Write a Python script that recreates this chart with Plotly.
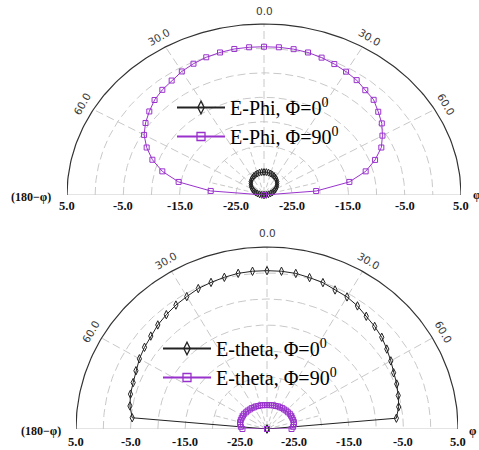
import numpy as np
import plotly.graph_objects as go

# ---------------- data ----------------
RMIN, RMAX = -30.0, 5.0
THETA = list(range(-90, 95, 5))  # degrees, -90 (left, 180-phi) .. 90 (right, phi)

# Top: E-Phi
ephi_phi0 = [-30.0, -29.6, -29.2, -28.8, -28.4, -28.0, -27.65, -27.3, -27.0, -26.7,
             -26.4, -26.15, -25.9, -25.75, -25.6, -25.45, -25.35, -25.3, -25.3,
             -25.3, -25.35, -25.45, -25.6, -25.75, -25.9, -26.15, -26.4, -26.7,
             -27.0, -27.3, -27.65, -28.0, -28.4, -28.8, -29.2, -29.6, -30.0]
ephi_phi90 = [-30.0, -20.5, -14.6, -11.3, -8.9, -7.0, -5.4, -4.3, -3.4, -2.5,
              -1.9, -1.4, -0.8, -0.35, 0.0, 0.2, 0.35, 0.35, 0.35,
              0.35, 0.31, 0.2, -0.08, -0.43, -0.85, -1.3, -2.0, -2.45,
              -3.5, -4.45, -5.7, -7.0, -9.0, -11.3, -14.6, -20.7, -30.0]

# Bottom: E-theta
etheta_phi0 = [-30.0, -5.2, -4.5, -4.1, -3.9, -3.5, -3.0, -2.6, -2.2, -1.7,
               -1.3, -0.9, -0.6, -0.2, 0.0, 0.2, 0.4, 0.45, 0.45,
               0.45, 0.38, 0.14, -0.04, -0.5, -0.67, -1.1, -1.7, -2.1,
               -2.55, -3.2, -3.8, -4.4, -4.7, -5.1, -5.5, -6.2, -30.0]
etheta_phi90_theta = [-90] + THETA + [90]
etheta_phi90 = [-30.0,
                -25.5, -25.2, -25.0, -24.9, -24.9, -24.9, -24.9, -24.9, -25.0, -25.0,
                -25.1, -25.1, -25.2, -25.2, -25.3, -25.3, -25.35, -25.4, -25.4,
                -25.4, -25.35, -25.3, -25.3, -25.2, -25.2, -25.1, -25.1, -25.0,
                -25.0, -24.9, -24.9, -24.9, -24.9, -24.9, -25.0, -25.2, -25.5,
                -30.0]

RADIAL_GRID = [0, -5, -10, -15, -20, -25]
RADIAL_TICKS = [5, -5, -15, -25]
RADIAL_TICK_TEXT = ["5.0", "-5.0", "-15.0", "-25.0"]
ANGLE_SPOKES = [-60, -30, 0, 30, 60]
ANGLE_LABELS = [-60, -30, 0, 30, 60]
ANGLE_TEXT = ["60.0", "30.0", "0.0", "30.0", "60.0"]

PURPLE = "#9932CC"
DARK = "#222222"
GRID = "#c8c8c8"

W, H = 479, 450
YTOP = 1.12  # headroom above the outer arc for the 0.0 label


def to_xy(theta, db):
    t = np.radians(np.asarray(theta, dtype=float))
    r = (np.asarray(db, dtype=float) - RMIN) / (RMAX - RMIN)
    return r * np.sin(t), r * np.cos(t)


fig = go.Figure()

panels = [
    dict(xa="x", ya="y", l=67, r=461, t=24, b=195, lab_shift=-11, leg="legend"),
    dict(xa="x2", ya="y2", l=76, r=458, t=247, b=429, lab_shift=-13.5, leg="legend2"),
]

arc = np.linspace(-90, 90, 181)
for p in panels:
    bx, by = to_xy([-90, 90], [RMAX, RMAX])
    fig.add_trace(go.Scatter(x=bx, y=by, mode="lines", xaxis=p["xa"], yaxis=p["ya"],
                             line=dict(color=GRID, width=1), hoverinfo="skip", showlegend=False))
    for g in RADIAL_GRID:
        gx, gy = to_xy(arc, [g] * len(arc))
        fig.add_trace(go.Scatter(x=gx, y=gy, mode="lines", xaxis=p["xa"], yaxis=p["ya"],
                                 line=dict(color=GRID, width=1, dash="8px,4px"),
                                 hoverinfo="skip", showlegend=False))
    for a in ANGLE_SPOKES:
        sx, sy = to_xy([a, a], [RMIN, RMAX])
        fig.add_trace(go.Scatter(x=sx, y=sy, mode="lines", xaxis=p["xa"], yaxis=p["ya"],
                                 line=dict(color=GRID, width=1, dash="8px,4px"),
                                 hoverinfo="skip", showlegend=False))
    for a in [-75, -45, -15, 15, 45, 75]:
        sx, sy = to_xy([a, a], [RMIN, -20])
        fig.add_trace(go.Scatter(x=sx, y=sy, mode="lines", xaxis=p["xa"], yaxis=p["ya"],
                                 line=dict(color=GRID, width=1, dash="5px,3px"),
                                 hoverinfo="skip", showlegend=False))
    ox, oy = to_xy(arc, [RMAX] * len(arc))
    fig.add_trace(go.Scatter(x=ox, y=oy, mode="lines", xaxis=p["xa"], yaxis=p["ya"],
                             line=dict(color="#333333", width=1.2), hoverinfo="skip", showlegend=False))

series = [
    (0, THETA, ephi_phi0, "E-Phi, \u03a6=0<sup>0</sup>", DARK, "diamond-tall-open", 5),
    (0, THETA, ephi_phi90, "E-Phi, \u03a6=90<sup>0</sup>", PURPLE, "square-open", 5),
    (1, THETA, etheta_phi0, "E-theta, \u03a6=0<sup>0</sup>", DARK, "diamond-tall-open", 6),
    (1, etheta_phi90_theta, etheta_phi90, "E-theta, \u03a6=90<sup>0</sup>", PURPLE, "square-open", 5),
]
for idx, th, vals, name, col, sym, sz in series:
    p = panels[idx]
    x, y = to_xy(th, vals)
    fig.add_trace(go.Scatter(x=x, y=y, mode="lines+markers", xaxis=p["xa"], yaxis=p["ya"],
                             line=dict(color=col, width=1),
                             marker=dict(symbol=sym, size=sz, color=col, line=dict(width=1, color=col)),
                             cliponaxis=False, showlegend=False, name=name))
    fig.add_trace(go.Scatter(x=[None], y=[None], mode="lines+markers", xaxis=p["xa"], yaxis=p["ya"],
                             line=dict(color=col, width=2),
                             marker=dict(symbol=sym, size=9 if "diamond" in sym else 8, color=col,
                                         line=dict(width=1.3, color=col)),
                             name=name, legend=p["leg"], showlegend=True))

annotations = []
for p in panels:
    for v, txt in zip(RADIAL_TICKS, RADIAL_TICK_TEXT):
        for side in (-90, 90):
            ax, ay = to_xy([side], [v])
            annotations.append(dict(x=float(ax[0]), y=0, xref=p["xa"], yref=p["ya"], text="<b>" + txt + "</b>",
                                    showarrow=False, yshift=p["lab_shift"], xanchor="center", yanchor="middle",
                                    font=dict(family="Liberation Serif", size=12.5, color="#111111")))
    for a, txt in zip(ANGLE_LABELS, ANGLE_TEXT):
        r = 1.075 if a == 0 else 1.068
        lx, ly = to_xy([a], [RMIN + r * (RMAX - RMIN)])
        annotations.append(dict(x=float(lx[0]), y=float(ly[0]), xref=p["xa"], yref=p["ya"], text=txt,
                                showarrow=False, textangle=a, xanchor="center", yanchor="middle",
                                font=dict(family="DejaVu Sans", size=10.5, color="#3a3a3a")))

for (px, py, txt) in [(31, 197, "(180\u2212\u03c6)"), (477, 195, "\u03c6"),
                      (41, 431, "(180\u2212\u03c6)"), (473, 431, "\u03c6")]:
    annotations.append(dict(x=px / W, y=1 - py / H, xref="paper", yref="paper", text="<b>" + txt + "</b>",
                            showarrow=False, xanchor="center", yanchor="middle",
                            font=dict(family="Liberation Serif", size=12, color="#111111")))


def ax_conf(p, kind):
    if kind == "x":
        return dict(domain=[p["l"] / W, p["r"] / W], range=[-1, 1], visible=False, fixedrange=True)
    top_px = p["b"] - YTOP * (p["b"] - p["t"])
    return dict(domain=[1 - p["b"] / H, 1 - top_px / H], range=[0, YTOP], visible=False, fixedrange=True)


leg_common = dict(font=dict(family="Liberation Serif", size=20, color="#000000"),
                  bgcolor="rgba(0,0,0,0)", itemwidth=48, tracegroupgap=0,
                  xanchor="left", yanchor="top", itemsizing="trace")

fig.update_layout(
    width=W, height=H, margin=dict(l=0, r=0, t=0, b=0),
    paper_bgcolor="white", plot_bgcolor="white",
    xaxis=dict(**ax_conf(panels[0], "x"), anchor="y"),
    yaxis=dict(**ax_conf(panels[0], "y"), anchor="x"),
    xaxis2=dict(**ax_conf(panels[1], "x"), anchor="y2"),
    yaxis2=dict(**ax_conf(panels[1], "y"), anchor="x2"),
    legend=dict(x=172 / W, y=1 - 88 / H, **leg_common),
    legend2=dict(x=158 / W, y=1 - 329 / H, **leg_common),
    annotations=annotations,
    showlegend=True,
)

fig.write_html("out.html")
